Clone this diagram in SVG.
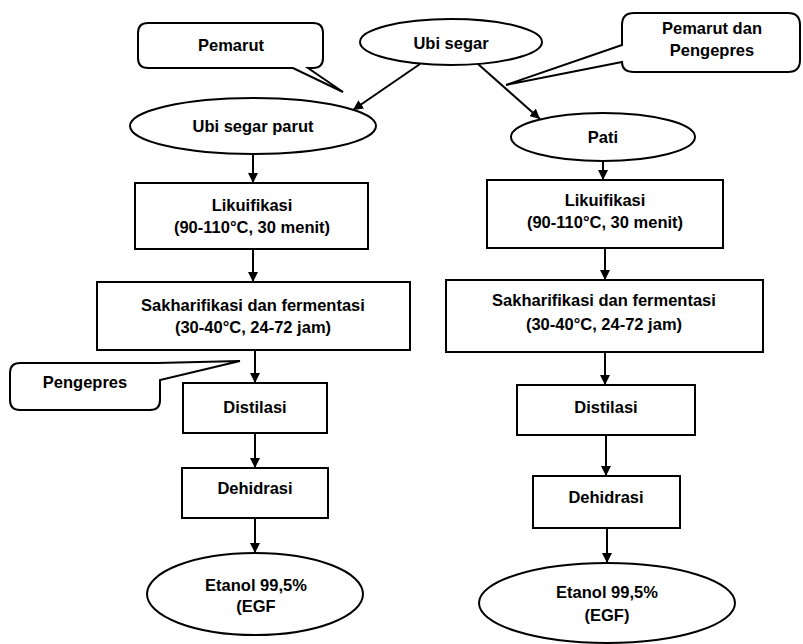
<svg xmlns="http://www.w3.org/2000/svg" width="803" height="644" viewBox="0 0 803 644">
<style>
.s{fill:#fff;stroke:#000;stroke-width:2}
.t{font-family:"Liberation Sans",Arial,sans-serif;font-size:16.5px;font-weight:bold;fill:#000;text-anchor:middle}
.c{stroke:#000;stroke-width:2;fill:none}
</style>
<defs>
<marker id="ah" markerWidth="11" markerHeight="11" refX="10" refY="5" orient="auto" markerUnits="userSpaceOnUse">
<path d="M0,0 L10,5 L0,10 Z" fill="#000"/>
</marker>
</defs>
<rect width="803" height="644" fill="#fff"/>
<g id="connectors">
<line class="c" x1="420" y1="64" x2="353" y2="110" marker-end="url(#ah)"/>
<line class="c" x1="478" y1="64" x2="540" y2="119" marker-end="url(#ah)"/>
<line class="c" x1="253" y1="154" x2="253" y2="183" marker-end="url(#ah)"/>
<line class="c" x1="253" y1="249" x2="253" y2="282" marker-end="url(#ah)"/>
<line class="c" x1="255" y1="350" x2="255" y2="383" marker-end="url(#ah)"/>
<line class="c" x1="255" y1="433" x2="255" y2="468" marker-end="url(#ah)"/>
<line class="c" x1="255" y1="518" x2="255" y2="553" marker-end="url(#ah)"/>
<line class="c" x1="603" y1="161" x2="603" y2="180" marker-end="url(#ah)"/>
<line class="c" x1="605" y1="248" x2="605" y2="280" marker-end="url(#ah)"/>
<line class="c" x1="605" y1="352" x2="605" y2="385" marker-end="url(#ah)"/>
<line class="c" x1="606" y1="435" x2="606" y2="476" marker-end="url(#ah)"/>
<line class="c" x1="607" y1="528" x2="607" y2="563" marker-end="url(#ah)"/>
</g>
<g id="ubi-segar">
<ellipse class="s" cx="451" cy="42" rx="91" ry="23"/>
<text class="t" x="451" y="49">Ubi segar</text>
</g>
<g id="pemarut">
<path class="s" d="M148,23 H313 Q323,23 323,33 V58 Q323,68 313,68 H308 L343,92 L293,68 H148 Q138,68 138,58 V33 Q138,23 148,23 Z"/>
<text class="t" x="231" y="51">Pemarut</text>
</g>
<g id="pemarut-pengepres">
<path class="s" d="M634,13 H788 Q800,13 800,25 V60 Q800,72 788,72 H634 Q622,72 622,62 L506,85 L622,45 V25 Q622,13 634,13 Z"/>
<text class="t" x="712" y="34">Pemarut dan</text>
<text class="t" x="712" y="56">Pengepres</text>
</g>
<g id="ubi-segar-parut">
<ellipse class="s" cx="253" cy="126" rx="123" ry="28"/>
<text class="t" x="253" y="132">Ubi segar parut</text>
</g>
<g id="pati">
<ellipse class="s" cx="603" cy="137" rx="92" ry="24"/>
<text class="t" x="603" y="143">Pati</text>
</g>
<g id="likuifikasi-l">
<rect class="s" x="135" y="183" width="233" height="66"/>
<text class="t" x="252" y="211">Likuifikasi</text>
<text class="t" x="252" y="233">(90-110°C, 30 menit)</text>
</g>
<g id="likuifikasi-r">
<rect class="s" x="487" y="180" width="236" height="68"/>
<text class="t" x="605" y="206">Likuifikasi</text>
<text class="t" x="605" y="228">(90-110°C, 30 menit)</text>
</g>
<g id="sakharifikasi-l">
<rect class="s" x="97" y="282" width="313" height="68"/>
<text class="t" x="253" y="311">Sakharifikasi dan fermentasi</text>
<text class="t" x="253" y="333">(30-40°C, 24-72 jam)</text>
</g>
<g id="sakharifikasi-r">
<rect class="s" x="446" y="280" width="317" height="72"/>
<text class="t" x="604" y="306">Sakharifikasi dan fermentasi</text>
<text class="t" x="604" y="330">(30-40°C, 24-72 jam)</text>
</g>
<g id="pengepres">
<path class="s" d="M20,363 H157 L240,361 L160,380 V400 Q160,410 150,410 H20 Q10,410 10,400 V373 Q10,363 20,363 Z"/>
<text class="t" x="85" y="388">Pengepres</text>
</g>
<g id="distilasi-l">
<rect class="s" x="183" y="383" width="144" height="50"/>
<text class="t" x="255" y="413">Distilasi</text>
</g>
<g id="distilasi-r">
<rect class="s" x="517" y="385" width="178" height="50"/>
<text class="t" x="606" y="413">Distilasi</text>
</g>
<g id="dehidrasi-l">
<rect class="s" x="182" y="468" width="146" height="50"/>
<text class="t" x="255" y="494">Dehidrasi</text>
</g>
<g id="dehidrasi-r">
<rect class="s" x="533" y="476" width="147" height="52"/>
<text class="t" x="606" y="503">Dehidrasi</text>
</g>
<g id="etanol-l">
<ellipse class="s" cx="255" cy="594" rx="108" ry="41"/>
<text class="t" x="256" y="591">Etanol 99,5%</text>
<text class="t" x="256" y="612">(EGF</text>
</g>
<g id="etanol-r">
<ellipse class="s" cx="607" cy="603" rx="128" ry="40"/>
<text class="t" x="607" y="598">Etanol 99,5%</text>
<text class="t" x="607" y="621">(EGF)</text>
</g>
</svg>
